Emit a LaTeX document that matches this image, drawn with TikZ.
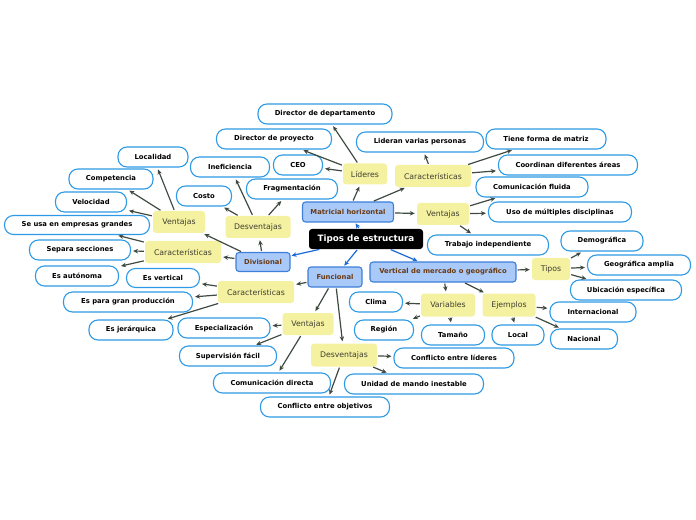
\documentclass[tikz,border=0pt]{standalone}
\usepackage{fontspec}
\setmainfont{DejaVu Sans}
\usetikzlibrary{arrows.meta}
\definecolor{leafborder}{HTML}{2E9AE6}
\definecolor{yelfill}{HTML}{F4F1A1}
\definecolor{yeltext}{HTML}{403F30}
\definecolor{blufill}{HTML}{A9C9F8}
\definecolor{bluborder}{HTML}{3D7FD9}
\definecolor{blutext}{HTML}{6A3A12}
\definecolor{edgecol}{HTML}{3E4A40}
\definecolor{rootedge}{HTML}{1C68D6}
\begin{document}
\begin{tikzpicture}[x=1bp,y=-1bp,
 leafbox/.style={draw=leafborder, line width=1.1bp, fill=white, rounded corners=9bp, inner sep=0pt, minimum height=20bp, font=\fontsize{6.85}{7.5}\selectfont\bfseries, text=black},
 yelbox/.style={fill=yelfill, rounded corners=3bp, inner sep=0pt, minimum height=22bp, font=\fontsize{7.8}{8.5}\selectfont, text=yeltext},
 blubox/.style={draw=bluborder, line width=1.1bp, fill=blufill, rounded corners=3bp, inner sep=0pt, minimum height=20bp, font=\fontsize{6.85}{7.5}\selectfont\bfseries, text=blutext},
 rootbox/.style={fill=black, rounded corners=3bp, inner sep=0pt, minimum height=20bp, font=\fontsize{8.8}{9.5}\selectfont\bfseries, text=white},
 conn/.style={draw=edgecol, line width=1.2bp, -{Stealth[length=5bp,width=4.5bp]}, shorten >=2bp, shorten <=1bp},
 rconn/.style={draw=rootedge, line width=1.2bp, -{Stealth[length=5bp,width=4.5bp]}, shorten >=1bp, shorten <=1bp}
]
\useasboundingbox (0,0) rectangle (696,520);

% root and main branches
\node[rootbox, minimum width=114bp] (root) at (366,239) {Tipos de estructura};
\node[blubox, minimum width=91bp] (mat) at (348,212) {Matricial horizontal};
\node[blubox, minimum width=54bp, minimum height=19bp] (div) at (263,262) {Divisional};
\node[blubox, minimum width=54bp] (fun) at (335,277) {Funcional};
\node[blubox, minimum width=146bp] (ver) at (443,272) {Vertical de mercado o geográfico};

% yellow category nodes
\node[yelbox, minimum width=44bp, minimum height=21bp] (lid) at (365,174) {Líderes};
\node[yelbox, minimum width=76bp] (carm) at (433,176) {Características};
\node[yelbox, minimum width=52bp] (venm) at (443,214) {Ventajas};
\node[yelbox, minimum width=65bp] (desd) at (258,227) {Desventajas};
\node[yelbox, minimum width=52bp] (vend) at (179,222) {Ventajas};
\node[yelbox, minimum width=76bp] (card) at (183,252) {Características};
\node[yelbox, minimum width=76bp] (carf) at (256,292) {Características};
\node[yelbox, minimum width=51bp] (venf) at (308,324) {Ventajas};
\node[yelbox, minimum width=66bp, minimum height=23bp] (desf) at (344,355) {Desventajas};
\node[yelbox, minimum width=38bp] (tip) at (551,269) {Tipos};
\node[yelbox, minimum width=54bp, minimum height=23bp] (var) at (448,305) {Variables};
\node[yelbox, minimum width=53bp, minimum height=23bp] (eje) at (509,305) {Ejemplos};

% leaves: Matricial
\node[leafbox, minimum width=134bp] (dd) at (325,114) {Director de departamento};
\node[leafbox, minimum width=115bp] (dp) at (274,139) {Director de proyecto};
\node[leafbox, minimum width=49bp] (ceo) at (298,165) {CEO};
\node[leafbox, minimum width=127bp] (lvp) at (420,142) {Lideran varias personas};
\node[leafbox, minimum width=120bp] (tfm) at (546,139) {Tiene forma de matriz};
\node[leafbox, minimum width=139bp] (cda) at (568,165) {Coordinan diferentes áreas};
\node[leafbox, minimum width=112bp] (cfl) at (532,187) {Comunicación fluida};
\node[leafbox, minimum width=143bp] (umd) at (560,212) {Uso de múltiples disciplinas};
\node[leafbox, minimum width=121bp] (tin) at (488,245) {Trabajo independiente};

% leaves: Divisional
\node[leafbox, minimum width=79bp] (inef) at (230,167) {Ineficiencia};
\node[leafbox, minimum width=91bp] (frag) at (292,189) {Fragmentación};
\node[leafbox, minimum width=55bp] (cos) at (204,196) {Costo};
\node[leafbox, minimum width=70bp] (loc) at (153,157) {Localidad};
\node[leafbox, minimum width=84bp] (comp) at (111,179) {Competencia};
\node[leafbox, minimum width=71bp] (vel) at (91,202) {Velocidad};
\node[leafbox, minimum width=145bp, minimum height=19bp] (seu) at (77,225) {Se usa en empresas grandes};
\node[leafbox, minimum width=101bp] (sep) at (80,250) {Separa secciones};
\node[leafbox, minimum width=83bp] (aut) at (77,276) {Es autónoma};

% leaves: Funcional
\node[leafbox, minimum width=73bp, minimum height=19bp] (evt) at (163,278) {Es vertical};
\node[leafbox, minimum width=129bp] (egp) at (128,302) {Es para gran producción};
\node[leafbox, minimum width=84bp] (ejq) at (131,330) {Es jerárquica};
\node[leafbox, minimum width=92bp] (esp) at (224,328) {Especialización};
\node[leafbox, minimum width=97bp] (svf) at (228,356) {Supervisión fácil};
\node[leafbox, minimum width=117bp] (cdi) at (272,383) {Comunicación directa};
\node[leafbox, minimum width=120bp] (cel) at (454,358) {Conflicto entre líderes};
\node[leafbox, minimum width=139bp] (umi) at (414,384) {Unidad de mando inestable};
\node[leafbox, minimum width=129bp] (ceo2) at (325,407) {Conflicto entre objetivos};

% leaves: Vertical
\node[leafbox, minimum width=82bp] (dem) at (602,241) {Demográfica};
\node[leafbox, minimum width=103bp] (gam) at (639,265) {Geográfica amplia};
\node[leafbox, minimum width=111bp] (ube) at (626,290) {Ubicación específica};
\node[leafbox, minimum width=53bp] (cli) at (376,302) {Clima};
\node[leafbox, minimum width=59bp] (reg) at (384,330) {Región};
\node[leafbox, minimum width=63bp] (tam) at (453,335) {Tamaño};
\node[leafbox, minimum width=86bp] (int) at (593,312) {Internacional};
\node[leafbox, minimum width=67bp] (nac) at (584,339) {Nacional};
\node[leafbox, minimum width=52bp] (lcl) at (518,335) {Local};

% root connectors
\draw[rconn] (root) -- (mat);
\draw[rconn] (root) -- (div);
\draw[rconn] (root) -- (fun);
\draw[rconn] (root) -- (ver);

% matricial
\draw[conn] (mat) -- (lid);
\draw[conn] (mat) -- (carm);
\draw[conn] (mat) -- (venm);
\draw[conn] (lid) -- (dd);
\draw[conn] (lid) -- (dp);
\draw[conn] (lid) -- (ceo);
\draw[conn] (carm) -- (lvp);
\draw[conn] (carm) -- (tfm);
\draw[conn] (carm) -- (cda);
\draw[conn] (venm) -- (cfl);
\draw[conn] (venm) -- (umd);
\draw[conn] (venm) -- (tin);

% divisional
\draw[conn] (div) -- (desd);
\draw[conn] (div) -- (vend);
\draw[conn] (div) -- (card);
\draw[conn] (desd) -- (inef);
\draw[conn] (desd) -- (frag);
\draw[conn] (desd) -- (cos);
\draw[conn] (vend) -- (loc);
\draw[conn] (vend) -- (comp);
\draw[conn] (vend) -- (vel);
\draw[conn] (card) -- (seu);
\draw[conn] (card) -- (sep);
\draw[conn] (card) -- (aut);

% funcional
\draw[conn] (fun) -- (carf);
\draw[conn] (fun) -- (venf);
\draw[conn] (fun) -- (desf);
\draw[conn] (carf) -- (evt);
\draw[conn] (carf) -- (egp);
\draw[conn] (carf) -- (ejq);
\draw[conn] (venf) -- (esp);
\draw[conn] (venf) -- (svf);
\draw[conn] (venf) -- (cdi);
\draw[conn] (desf) -- (cel);
\draw[conn] (desf) -- (umi);
\draw[conn] (desf) -- (ceo2);

% vertical
\draw[conn] (ver) -- (tip);
\draw[conn] (ver) -- (var);
\draw[conn] (ver) -- (eje);
\draw[conn] (tip) -- (dem);
\draw[conn] (tip) -- (gam);
\draw[conn] (tip) -- (ube);
\draw[conn] (var) -- (cli);
\draw[conn] (var) -- (reg);
\draw[conn] (var) -- (tam);
\draw[conn] (eje) -- (int);
\draw[conn] (eje) -- (nac);
\draw[conn] (eje) -- (lcl);
\end{tikzpicture}
\end{document}
